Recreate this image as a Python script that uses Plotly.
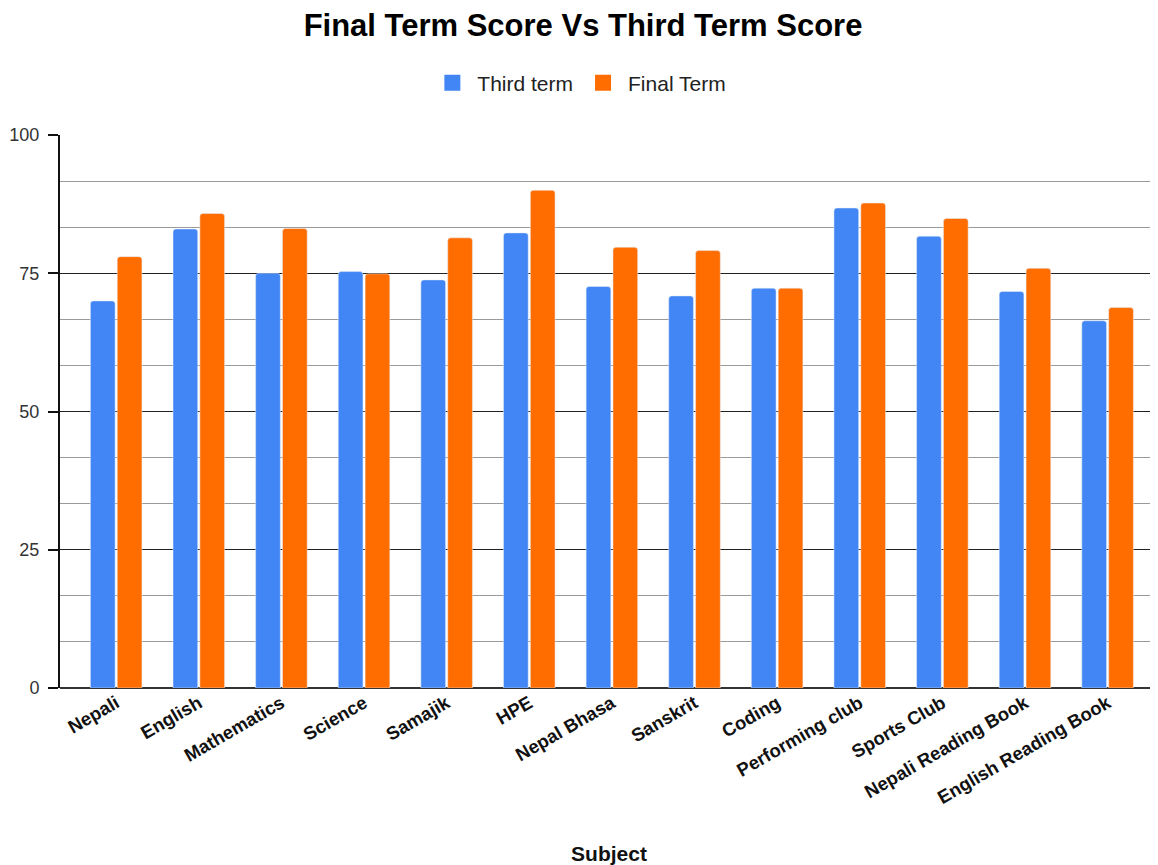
import plotly.graph_objects as go

subjects = ['Nepali', 'English', 'Mathematics', 'Science', 'Samajik', 'HPE',
            'Nepal Bhasa', 'Sanskrit', 'Coding', 'Performing club', 'Sports Club',
            'Nepali Reading Book', 'English Reading Book']
third_term = [70, 83, 75, 75.3, 73.8, 82.3, 72.6, 70.9, 72.3, 86.8, 81.7, 71.7, 66.4]
final_term = [78, 85.8, 83.1, 74.9, 81.4, 90, 79.7, 79.1, 72.3, 87.7, 84.9, 75.9, 68.8]
y_ticks = [0, 25, 50, 75, 100]

blue = '#4285F4'
orange = '#FF6D01'

fig = go.Figure()
fig.add_trace(go.Bar(x=subjects, y=third_term, name='Third term', marker_color=blue, showlegend=False))
fig.add_trace(go.Bar(x=subjects, y=final_term, name='Final Term', marker_color=orange, showlegend=False))
# legend entries with bigger square swatches
fig.add_trace(go.Scatter(x=[None], y=[None], mode='markers', name='Third term',
                         marker=dict(symbol='square', size=16, color=blue)))
fig.add_trace(go.Scatter(x=[None], y=[None], mode='markers', name='Final Term',
                         marker=dict(symbol='square', size=16, color=orange)))

# page body adds 8px margin, so figure is 1150x857
fig.update_layout(
    width=1150, height=857,
    paper_bgcolor='white', plot_bgcolor='white',
    font=dict(family='Liberation Sans, Arial, sans-serif', color='#222222'),
    title=dict(text='<b>Final Term Score Vs Third Term Score</b>', x=0.5, xanchor='center',
               y=1 - 6 / 857, yanchor='top', font=dict(size=31, color='#000000')),
    legend=dict(orientation='h', x=0.473, xanchor='center', y=1.094, yanchor='middle',
                font=dict(size=21, color='#222222'), traceorder='normal', itemsizing='trace',
                itemwidth=40),
    margin=dict(l=52, r=0, t=127, b=177),
    bargap=0.35, bargroupgap=0.08,
    barcornerradius=3,
)

fig.update_xaxes(
    range=[-0.68, 12.61], automargin=False,
    tickangle=-30,
    tickfont=dict(size=18.5, color='#111111', family='Liberation Sans, Arial, sans-serif', weight='bold'),
    showgrid=False, showline=False, ticks='',
    title=dict(text='<b>Subject</b>', font=dict(size=21, color='#111111'), standoff=106),
)
fig.update_yaxes(
    range=[0, 100], tickvals=y_ticks, ticktext=[str(v) for v in y_ticks], automargin=False,
    tickfont=dict(size=18, color='#333333'), ticklabelstandoff=5,
    showline=True, linecolor='#111111', linewidth=2,
    ticks='outside', ticklen=10, tickwidth=2, tickcolor='#111111',
    showgrid=True, gridcolor='#222222', gridwidth=1,
    zeroline=True, zerolinecolor='#333333', zerolinewidth=2,
    minor=dict(dtick=25 / 3, tick0=0, showgrid=True, gridcolor='#9a9a9a', gridwidth=1, ticks=''),
)

fig.write_html("out.html")
